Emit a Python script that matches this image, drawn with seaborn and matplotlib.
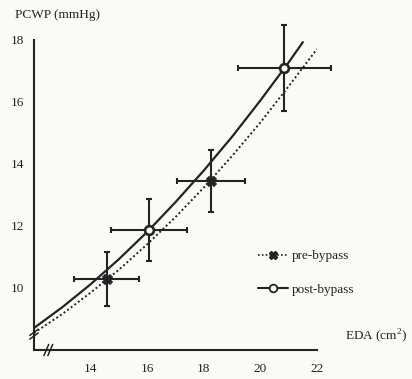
import numpy as np
import pandas as pd
import matplotlib
matplotlib.use("Agg")
import matplotlib.pyplot as plt
from matplotlib.lines import Line2D
import seaborn as sns

# Fitted pressure-area curves (EDA in cm^2, PCWP in mmHg)
pre_curve_eda = [12, 13, 14, 15, 16, 17, 18, 19, 20, 21, 22]
pre_curve_pcwp = [8.55, 9.16, 9.85, 10.59, 11.41, 12.29, 13.24, 14.26, 15.34, 16.51, 17.71]
post_curve_eda = [12, 13, 14, 15, 16, 17, 18, 19, 20, 21, 21.5]
post_curve_pcwp = [8.71, 9.38, 10.12, 10.93, 11.81, 12.77, 13.79, 14.88, 16.05, 17.28, 17.93]

# Group means with SD bars
pre_eda = [14.57, 18.27]
pre_pcwp = [10.29, 13.45]
pre_eda_sd = [1.15, 1.2]
pre_pcwp_sd = [0.87, 1.0]

post_eda = [16.06, 20.85]
post_pcwp = [11.87, 17.10]
post_eda_sd = [1.33, 1.65]
post_pcwp_sd = [1.0, 1.4]

series_labels = ["pre-bypass", "post-bypass"]
x_ticks = [14, 16, 18, 20, 22]
y_ticks = [10, 12, 14, 16, 18]

sns.set_theme(style="white")
plt.rcParams["font.family"] = ["Liberation Serif", "DejaVu Serif"]
plt.rcParams["mathtext.fontset"] = "custom"
plt.rcParams["mathtext.rm"] = "Liberation Serif"

ink = "#232323"
bg = "#fafaf7"

fig = plt.figure(figsize=(4.12, 3.79), dpi=100, facecolor=bg)
ax = fig.add_axes([34 / 412, 29 / 379, (317 - 34) / 412, (350 - 40) / 379])
ax.set_facecolor(bg)

curves = pd.concat([
    pd.DataFrame({"EDA": pre_curve_eda, "PCWP": pre_curve_pcwp, "group": series_labels[0]}),
    pd.DataFrame({"EDA": post_curve_eda, "PCWP": post_curve_pcwp, "group": series_labels[1]}),
])
sns.lineplot(data=curves[curves.group == series_labels[0]], x="EDA", y="PCWP", ax=ax,
             color=ink, lw=1.4, linestyle=(0, (1, 1.3)), sort=True, legend=False)
sns.lineplot(data=curves[curves.group == series_labels[1]], x="EDA", y="PCWP", ax=ax,
             color=ink, lw=1.6, linestyle="-", sort=True, legend=False)

err_kw = dict(fmt="none", ecolor=ink, elinewidth=1.5, capsize=2.5, capthick=1.5, clip_on=False, zorder=3)
ax.errorbar(pre_eda, pre_pcwp, xerr=pre_eda_sd, yerr=pre_pcwp_sd, **err_kw)
ax.errorbar(post_eda, post_pcwp, xerr=post_eda_sd, yerr=post_pcwp_sd, **err_kw)

points = pd.concat([
    pd.DataFrame({"EDA": pre_eda, "PCWP": pre_pcwp, "group": series_labels[0]}),
    pd.DataFrame({"EDA": post_eda, "PCWP": post_pcwp, "group": series_labels[1]}),
])
sns.scatterplot(data=points[points.group == series_labels[0]], x="EDA", y="PCWP", ax=ax,
                marker="X", s=50, color=ink, edgecolor=ink, linewidth=0.8, zorder=4, legend=False)
sns.scatterplot(data=points[points.group == series_labels[1]], x="EDA", y="PCWP", ax=ax,
                marker="o", s=40, facecolor=bg, edgecolor=ink, linewidth=1.9, zorder=4, legend=False)

ax.set_xlim(12, 22)
ax.set_ylim(8, 18)
ax.set_xticks(x_ticks)
ax.set_yticks(y_ticks)
ax.set_xlabel("")
ax.set_ylabel("")
for side in ("top", "right"):
    ax.spines[side].set_visible(False)
for side in ("left", "bottom"):
    ax.spines[side].set_color(ink)
    ax.spines[side].set_linewidth(1.5)
ax.tick_params(axis="both", direction="out", length=4, width=1.3, color=ink,
               labelsize=9.5, labelcolor=ink, pad=3)
ax.tick_params(axis="x", pad=5)

# axis break marks near the origin
brk = dict(color=ink, lw=1.1, transform=ax.transAxes, clip_on=False)
for dy in (0.0, 0.012):
    ax.plot([-0.015, 0.015], [0.035 + dy, 0.055 + dy], **brk)
for dx in (0.0, 0.014):
    ax.plot([0.035 + dx, 0.052 + dx], [-0.018, 0.018], **brk)

fig.text(15 / 412, 1 - 15 / 379, "PCWP (mmHg)", fontsize=9.5, color=ink, va="center", ha="left")
fig.text(345 / 412, 1 - 336 / 379, "EDA (cm$^{2}$)", fontsize=9.5, color=ink, va="center", ha="left")

handles = [
    Line2D([], [], color=ink, lw=1.2, linestyle=(0, (1, 1.3)), marker="X", markersize=6,
           markerfacecolor=ink, markeredgecolor=ink),
    Line2D([], [], color=ink, lw=1.5, linestyle="-", marker="o", markersize=5.5,
           markerfacecolor=bg, markeredgecolor=ink, markeredgewidth=1.3),
]
leg = ax.legend(handles, series_labels, loc="center left", bbox_to_anchor=(251 / 412, 1 - 273 / 379),
                bbox_transform=fig.transFigure, frameon=False, fontsize=9.5, handlelength=2.3,
                handletextpad=0.3, labelspacing=1.6, borderpad=0)
for t in leg.get_texts():
    t.set_color(ink)

fig.savefig("out.png", dpi=100, facecolor=bg)
